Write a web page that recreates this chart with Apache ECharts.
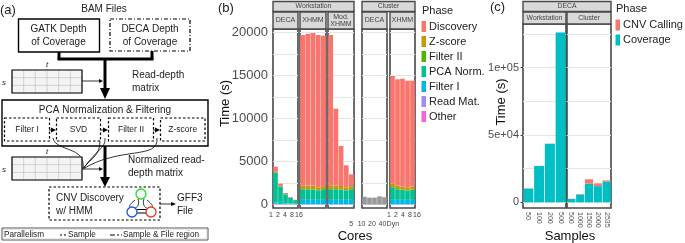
<!DOCTYPE html>
<html><head><meta charset="utf-8">
<style>html,body{margin:0;padding:0;background:#fff}#c{width:685px;height:243px}</style>
<script src="https://cdn.jsdelivr.net/npm/echarts@6/dist/echarts.min.js"></script>
</head><body><div id="c"></div>
<script>
// ---------- data (panel b, seconds; segment heights) ----------
const coreTicks = ['1','2','4','8','16'];
const clusterTicks = ['5','10','20','40','Dyn'];
const phases = ['Other','Read Mat.','Filter I','PCA Norm.','Filter II','Z-score','Discovery'];
const legendPhases = ['Discovery','Z-score','Filter II','PCA Norm.','Filter I','Read Mat.','Other'];
const phaseColors = ['#FB61D7','#A58AFF','#00B6EB','#00C094','#53B400','#C49A00','#F8766D'];

const decaOther     = [15,10,10,10,10];
const decaReadMat   = [70,50,30,30,20];
const decaFilterI   = [150,120,90,70,60];
const decaPca       = [3465,1890,1050,690,420];
const decaFilterII  = [20,10,10,5,5];
const decaZscore    = [80,50,30,20,15];
const decaDiscovery = [600,290,120,35,20];

const xhmmOther     = [0,0,0,0,0];
const xhmmReadMat   = [20,20,20,20,20];
const xhmmFilterI   = [520,520,520,520,520];
const xhmmPca       = [1230,1230,1210,1110,1230];
const xhmmFilterII  = [30,30,30,30,30];
const xhmmZscore    = [390,400,390,320,330];
const xhmmDiscovery = [17520,17660,17770,17710,17500];

const modDiscovery  = [17520,8950,4650,2560,1380];
const modZscore     = [390,390,370,320,330];

const cxhmmPca       = [1460,1230,1160,1080,1160];
const cxhmmZscore    = [430,390,340,350,340];
const cxhmmDiscovery = [12480,12370,12560,12400,12330];

const clusterDecaTotal = [900,800,800,950,850];

// ---------- data (panel c) ----------
const wsSamples = ['50','100','200','500'];
const clSamples = ['500','1000','1500','2000','2535'];
const wsCoverage = [10200,27000,43400,126100];
const wsCalling  = [100,100,200,100];
const clCoverage = [2500,5800,13900,12000,15400];
const clCalling  = [50,300,3200,2100,900];

const bMajor = [0,5000,10000,15000,20000];
const bGrid  = [0,2500,5000,7500,10000,12500,15000,17500,20000];
const cMajor = [0,50000,100000];
const cGrid  = [0,25000,50000,75000,100000,125000];
const cLabel = {0:'0',50000:'5e+04',100000:'1e+05'};

// ---------- layout ----------
const FONT = '"Liberation Sans", Arial, sans-serif';
const bY = {min:-407,max:20407};
const cY = {min:-4235,max:132466};
const panels = [
 {x:273,w:25,top:29,h:179}, {x:300,w:26,top:29,h:179}, {x:328,w:26,top:29,h:179},
 {x:362,w:25,top:29,h:179}, {x:390,w:25,top:29,h:179},
 {x:523,w:43,top:24,h:184}, {x:567,w:44,top:24,h:184}
];
const grid=[], xAxis=[], yAxis=[], series=[];
const axisGrey='#4d4d4d';
panels.forEach((p,i)=>{
  grid.push({left:p.x,top:p.top,width:p.w,height:p.h,show:true,backgroundColor:'#fff',borderWidth:0});
  const isB=i<5;
  const r=isB?bY:cY;
  const withLabel=(i===0||i===5);
  const major=isB?bMajor:cMajor;
  xAxis.push({type:'category',gridIndex:i,data:i===0?coreTicks:i===5?wsSamples:i===6?clSamples:coreTicks,
    axisLine:{show:false},axisTick:{show:false},
    axisLabel:i>=5?{show:true,interval:0,rotate:-90,fontSize:7,fontFamily:FONT,color:'#555',margin:4,hideOverlap:false}:{show:false}});
  yAxis.push({type:'value',gridIndex:i,min:r.min,max:r.max,
    axisLine:{show:false},
    axisTick:{show:false,customValues:isB?bGrid:cGrid},
    axisLabel:{show:false,customValues:major},
    splitLine:{show:true,lineStyle:{color:'#e6e6e6',width:1}}});
  if(withLabel){
    yAxis.push({type:'value',gridIndex:i,min:r.min,max:r.max,position:'left',
      axisLine:{show:false},
      axisTick:{show:!isB,length:2.5,lineStyle:{color:'#444'},customValues:major},
      splitLine:{show:false},
      axisLabel:{show:true,customValues:major,fontFamily:FONT,color:axisGrey,
        fontSize:isB?13:11,margin:isB?5:4,formatter:isB?(v=>String(v)):(v=>cLabel[v])}});
  }
});
// locate y axis index by grid
function yIdx(g){ return yAxis.findIndex(a=>a.gridIndex===g); }

function stackPanel(g,arrs){
  phases.forEach((ph,k)=>{
    series.push({type:'bar',name:ph,xAxisIndex:g,yAxisIndex:yIdx(g),stack:'p'+g,data:arrs[k],
      barCategoryGap:'7%',itemStyle:{color:phaseColors[k]},silent:true,animation:false});
  });
}
stackPanel(0,[decaOther,decaReadMat,decaFilterI,decaPca,decaFilterII,decaZscore,decaDiscovery]);
stackPanel(1,[xhmmOther,xhmmReadMat,xhmmFilterI,xhmmPca,xhmmFilterII,xhmmZscore,xhmmDiscovery]);
stackPanel(2,[xhmmOther,xhmmReadMat,xhmmFilterI,xhmmPca,xhmmFilterII,modZscore,modDiscovery]);
series.push({type:'bar',name:'Total',xAxisIndex:3,yAxisIndex:yIdx(3),data:clusterDecaTotal,barCategoryGap:'7%',
  itemStyle:{color:'#999999'},silent:true,animation:false});
stackPanel(4,[xhmmOther,xhmmReadMat,xhmmFilterI,cxhmmPca,xhmmFilterII,cxhmmZscore,cxhmmDiscovery]);
[[5,wsCoverage,wsCalling],[6,clCoverage,clCalling]].forEach(([g,cov,cal])=>{
  series.push({type:'bar',name:'Coverage',xAxisIndex:g,yAxisIndex:yIdx(g),stack:'p'+g,data:cov,barCategoryGap:'7%',
    itemStyle:{color:'#00BFC4'},silent:true,animation:false});
  series.push({type:'bar',name:'CNV Calling',xAxisIndex:g,yAxisIndex:yIdx(g),stack:'p'+g,data:cal,barCategoryGap:'7%',
    itemStyle:{color:'#F8766D'},silent:true,animation:false});
});

// tick-label-only axes: labels sit wider than the narrow panels, as in the figure
function labelAxis(left,width,top,labels){
  const g=grid.length;
  grid.push({left,width,top,height:1,show:false});
  xAxis.push({type:'category',gridIndex:g,data:labels,axisLine:{show:false},axisTick:{show:false},
    axisLabel:{show:true,interval:0,hideOverlap:false,margin:2,fontSize:7,fontFamily:FONT,color:'#444'}});
  yAxis.push({type:'value',gridIndex:g,show:false,min:0,max:1});
  series.push({type:'bar',xAxisIndex:g,yAxisIndex:yAxis.length-1,data:[],silent:true});
}
labelAxis(267.5,35,209,coreTicks);
labelAxis(346,52,217.5,clusterTicks);
labelAxis(385.5,35,209,coreTicks);

// ---------- graphics ----------
const g=[];
const T=(x,y,text,size,opt={})=>g.push({type:'text',x,y,silent:true,rotation:opt.rot||0,
  style:{text,fontSize:size,fontFamily:FONT,fill:opt.fill||'#222',align:opt.align||'left',verticalAlign:'middle',fontStyle:opt.italic?'italic':'normal'}});
const R=(x,y,w,h,stroke,lw,dash,fill)=>g.push({type:'rect',silent:true,shape:{x,y,width:w,height:h},
  style:{fill:fill||'none',stroke,lineWidth:lw,lineDash:dash||null}});
const L=(x1,y1,x2,y2,lw,color)=>g.push({type:'line',silent:true,shape:{x1,y1,x2,y2},style:{stroke:color||'#000',lineWidth:lw}});
const P=(pts)=>g.push({type:'polygon',silent:true,shape:{points:pts},style:{fill:'#000'}});
const B=(x1,y1,cx1,cy1,cx2,cy2,x2,y2,lw)=>g.push({type:'bezierCurve',silent:true,shape:{x1,y1,cpx1:cx1,cpy1:cy1,cpx2:cx2,cpy2:cy2,x2,y2},style:{stroke:'#000',lineWidth:lw||0.8,fill:'none'}});
const C=(x,y,r,color)=>g.push({type:'circle',silent:true,shape:{cx:x,cy:y,r},style:{fill:'#fff',stroke:color,lineWidth:1.3}});

// panel letters
T(0,10,'(a)',13);T(218,8,'(b)',13);T(490,7,'(c)',13);
// panel a
T(104,9,'BAM Files',10,{align:'center'});
R(18.5,19,81,33,'#000',1.4);
T(58.5,29.5,'GATK Depth',10,{align:'center'});T(58.5,42.5,'of Coverage',10,{align:'center'});
R(110,19,80,32,'#000',1.2,[4,2,1,2]);
T(150,29.5,'DECA Depth',10,{align:'center'});T(150,42.5,'of Coverage',10,{align:'center'});
L(59,52,59,59,3);L(57.5,59,153.5,59,3);L(152,51,152,59,3);L(105,59,105,90,3);
P([[100,88],[110,88],[105,99]]);
function matrix(y){
  R(12,y,70,23,'#aaa',0.7,null,'#f4f4f4');
  [1,2,3,4,5].forEach(i=>L(12+i*11.67,y,12+i*11.67,y+23,0.6,'#bbb'));
  [1,2].forEach(i=>L(12,y+i*7.67,82,y+i*7.67,0.6,'#bbb'));
  g.push({type:'rect',silent:true,shape:{x:12,y,width:70,height:23},style:{fill:'none',stroke:'#111',lineWidth:1.2}});
  T(4,y+12.5,'s',8,{italic:true,align:'center'});T(47,y-5,'t',8,{italic:true,align:'center'});
}
matrix(70);
L(82,81,100,81,0.8);P([[99,79],[103,81],[99,83]]);
T(132,75,'Read-depth',10);T(132,88,'matrix',10);
R(2,100,206,46,'#000',1.4);
T(105,110,'PCA Normalization & Filtering',10,{align:'center'});
[[4.5,45,'Filter I'],[56.5,44,'SVD'],[108.5,45,'Filter II'],[160.5,44.5,'Z-score']].forEach(([x,w,t])=>{
  R(x,118,w,23,'#000',1.2,[2.5,2]);T(x+w/2,130,t,8.5,{align:'center'});
});
[[49,55],[101,107],[153,159]].forEach(([a,b])=>{L(a,130,b-1,130,0.8);P([[b-4,127.5],[b+1,130],[b-4,132.5]]);});
L(105,146,105,180,3);P([[100,177],[110,177],[105,187]]);
B(53,138,56,152,86,146,83,168);
B(105,138,106,148,96,150,84,168);
B(100,141,100,155,92,158,83,168);
B(157,138,159,160,120,146,83,169);
matrix(157);
L(82,169,100,169,0.8);P([[99,167],[103,169],[99,171]]);
T(128,160,'Normalized read-',10);T(128,173,'depth matrix',10);
R(49,187,111,33,'#000',1.2,[2.5,2]);
T(56,198,'CNV Discovery',10);T(56,211,'w/ HMM',10);
B(135,200,130,204,129,206,130,207);B(147,200,152,204,153,206,152,207);
B(138,199,140,204,137,208,135,208);B(144,199,142,204,145,208,147,208);
L(137,209.5,147,209.5,1);L(137,213,147,213,1);
C(141,194,5,'#22dd22');C(132,212,5,'#2255dd');C(151,212,5,'#e83a20');
L(160,204,172,204,0.8);P([[171,202],[176,204],[171,206]]);
T(177,198,'GFF3',10);T(177,211,'File',10);
// parallelism key
R(2,228,206,12,'#555',1);
R(3,229,204,10,'#bbb',0.6);
T(4,235,'Parallelism',8.2);
L(60,235,66.5,235,1.2);g[g.length-1].style.lineDash=[2,2];
T(68,235,'Sample',8.2);
L(110,235,122,235,1.2);g[g.length-1].style.lineDash=[5,2,2,2];
T(123,235,'Sample & File region',8.2);
// panel frames above the bars
panels.forEach(p=>R(p.x,p.top,p.w,p.h,'#484848',1.6));
// strips
function strip(x,y,w,h,label,size,two){
  R(x,y,w,h,'#484848',1.4,null,'#d9d9d9');
  if(two){T(x+w/2,y+h/2-3.5,two[0],size,{align:'center',fill:'#444'});T(x+w/2,y+h/2+3.5,two[1],size,{align:'center',fill:'#444'});}
  else T(x+w/2,y+h/2,label,size,{align:'center',fill:'#444'});
}
strip(273,1.5,81,10,'Workstation',6.8);
strip(362,1.5,53,10,'Cluster',6.8);
strip(273,12,25,17,'DECA',7);
strip(300,12,26,17,'XHMM',7);
strip(328,12,26,17,'',7,['Mod.','XHMM']);
strip(362,12,25,17,'DECA',7);
strip(390,12,25,17,'XHMM',7);
strip(523,1.5,88,10,'DECA',6.8);
strip(523,12,43,12,'Workstation',6.8);
strip(567,12,44,12,'Cluster',6.8);
// legend titles and axis titles
T(422,10.5,'Phase',11);T(616,9,'Phase',11);
T(355,236,'Cores',13,{align:'center',fill:'#111'});
T(570,236,'Samples',13,{align:'center',fill:'#111'});
T(225,103.5,'Time (s)',13,{align:'center',fill:'#111',rot:Math.PI/2});
T(501,102,'Time (s)',13,{align:'center',fill:'#111',rot:Math.PI/2});

const legendBase={orient:'vertical',icon:'rect',itemWidth:4.5,itemHeight:11,selectedMode:false,padding:0,
  textStyle:{fontFamily:FONT,fontSize:11,color:'#222',padding:[0,0,0,-2]}};
const chart=echarts.init(document.getElementById('c'),null,{renderer:'canvas'});
chart.setOption({
  animation:false,backgroundColor:'#fff',tooltip:{show:false},
  grid,xAxis,yAxis,series,
  legend:[
    Object.assign({},legendBase,{left:421.5,top:21,itemGap:4,data:legendPhases}),
    Object.assign({},legendBase,{left:615.5,top:19.5,itemGap:4,data:['CNV Calling','Coverage']})
  ],
  graphic:{elements:g}
});
</script></body></html>
